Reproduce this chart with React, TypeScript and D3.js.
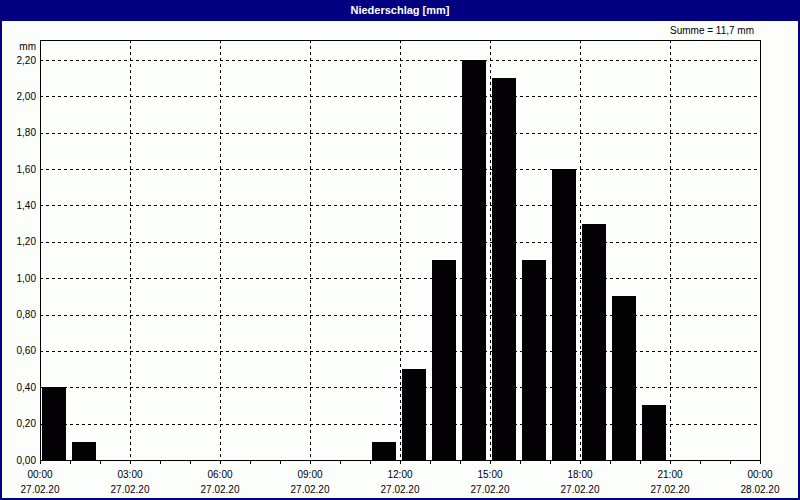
import React, {useEffect, useRef} from 'react';
import * as d3 from 'd3';

// hourly precipitation on 27.02.20, mm
const hours = [0, 1, 11, 12, 13, 14, 15, 16, 17, 18, 19, 20];
const values = [0.4, 0.1, 0.1, 0.5, 1.1, 2.2, 2.1, 1.1, 1.6, 1.3, 0.9, 0.3];
const yTicks = [0, 0.2, 0.4, 0.6, 0.8, 1.0, 1.2, 1.4, 1.6, 1.8, 2.0, 2.2];
const xMajor = [0, 3, 6, 9, 12, 15, 18, 21, 24];
const xTimeLabels = ['00:00', '03:00', '06:00', '09:00', '12:00', '15:00', '18:00', '21:00', '00:00'];
const xDateLabels = ['27.02.20', '27.02.20', '27.02.20', '27.02.20', '27.02.20', '27.02.20', '27.02.20', '27.02.20', '28.02.20'];
const title = 'Niederschlag [mm]';
const sumLabel = 'Summe = 11,7 mm';

const W = 800;
const H = 500;
const NAVY = '#000080';
const BG = '#fcfefc';
const FONT = '"Liberation Sans", Arial, sans-serif';

export default function App() {
  const svgRef = useRef<SVGSVGElement>(null);

  useEffect(() => {
    if (!svgRef.current) return;
    const svg = d3.select(svgRef.current);
    svg.selectAll('*').remove();

    const margin = {top: 40, right: 40, bottom: 40, left: 40};
    const x = d3.scaleLinear().domain([0, 24]).range([margin.left, W - margin.right]);
    const y = d3.scaleLinear().domain([0, 2.31]).range([H - margin.bottom, margin.top]);
    const fmt = (v: number) => d3.format('.2f')(v).replace('.', ',');

    // Background + window frame
    svg.append('rect').attr('width', W).attr('height', H).attr('fill', BG);
    svg.append('rect').attr('x', 0).attr('y', 0).attr('width', W).attr('height', 21).attr('fill', NAVY);
    svg
      .append('rect')
      .attr('x', 1)
      .attr('y', 1)
      .attr('width', W - 2)
      .attr('height', H - 2)
      .attr('fill', 'none')
      .attr('stroke', NAVY)
      .attr('stroke-width', 2);

    svg
      .append('text')
      .attr('x', W / 2)
      .attr('y', 14)
      .attr('text-anchor', 'middle')
      .attr('fill', '#fff')
      .attr('font-family', FONT)
      .attr('font-weight', 'bold')
      .attr('font-size', 11)
      .text(title);

    svg
      .append('text')
      .attr('x', 754)
      .attr('y', 34)
      .attr('text-anchor', 'end')
      .attr('font-family', FONT)
      .attr('font-size', 10)
      .attr('fill', '#000')
      .text(sumLabel);

    const [x0, x1] = x.range();
    const [yb, yt] = y.range();

    // Horizontal grid
    svg
      .append('g')
      .selectAll('line')
      .data(yTicks.filter((d) => d > 0))
      .join('line')
      .attr('x1', x0)
      .attr('x2', x1)
      .attr('y1', (d) => Math.round(y(d)) + 0.5)
      .attr('y2', (d) => Math.round(y(d)) + 0.5)
      .attr('stroke', '#000')
      .attr('stroke-dasharray', '3,3')
      .attr('shape-rendering', 'crispEdges');

    // Vertical grid
    svg
      .append('g')
      .selectAll('line')
      .data(xMajor.slice(1, -1))
      .join('line')
      .attr('x1', (d) => Math.round(x(d)) + 0.5)
      .attr('x2', (d) => Math.round(x(d)) + 0.5)
      .attr('y1', yt)
      .attr('y2', yb)
      .attr('stroke', '#000')
      .attr('stroke-dasharray', '3,3')
      .attr('shape-rendering', 'crispEdges');

    // Bars
    svg
      .append('g')
      .selectAll('rect')
      .data(hours.map((h, i) => ({h, v: values[i]})))
      .join('rect')
      .attr('x', (d) => x(d.h) + 2)
      .attr('width', (d) => x(d.h + 1) - x(d.h) - 6)
      .attr('y', (d) => Math.round(y(d.v)))
      .attr('height', (d) => yb - Math.round(y(d.v)))
      .attr('fill', '#040204')
      .attr('shape-rendering', 'crispEdges');

    // Plot frame
    svg
      .append('rect')
      .attr('x', x0 + 0.5)
      .attr('y', yt + 0.5)
      .attr('width', x1 - x0)
      .attr('height', yb - yt)
      .attr('fill', 'none')
      .attr('stroke', '#000')
      .attr('shape-rendering', 'crispEdges');

    // Hourly ticks on x axis
    svg
      .append('g')
      .selectAll('line')
      .data(d3.range(0, 25))
      .join('line')
      .attr('x1', (d) => Math.round(x(d)) + 0.5)
      .attr('x2', (d) => Math.round(x(d)) + 0.5)
      .attr('y1', yb)
      .attr('y2', yb + 4)
      .attr('stroke', '#000')
      .attr('shape-rendering', 'crispEdges');

    // Y labels
    svg
      .append('g')
      .selectAll('text')
      .data(yTicks)
      .join('text')
      .attr('x', 36)
      .attr('y', (d) => y(d))
      .attr('dy', '0.35em')
      .attr('text-anchor', 'end')
      .attr('font-family', FONT)
      .attr('font-size', 10)
      .text((d) => fmt(d));

    svg
      .append('text')
      .attr('x', 36)
      .attr('y', 46)
      .attr('dy', '0.35em')
      .attr('text-anchor', 'end')
      .attr('font-family', FONT)
      .attr('font-size', 10)
      .text('mm');

    // X labels
    const xl = svg.append('g').selectAll('g').data(xMajor).join('g');
    xl.append('text')
      .attr('x', (d) => x(d))
      .attr('y', 474)
      .attr('dy', '0.35em')
      .attr('text-anchor', 'middle')
      .attr('font-family', FONT)
      .attr('font-size', 10)
      .text((_, i) => xTimeLabels[i]);
    xl.append('text')
      .attr('x', (d) => x(d))
      .attr('y', 489)
      .attr('dy', '0.35em')
      .attr('text-anchor', 'middle')
      .attr('font-family', FONT)
      .attr('font-size', 10)
      .text((_, i) => xDateLabels[i]);
  }, []);

  return (
    <div style={{position: 'fixed', left: 0, top: 0}}>
      <svg ref={svgRef} width={W} height={H} style={{display: 'block'}} />
    </div>
  );
}
